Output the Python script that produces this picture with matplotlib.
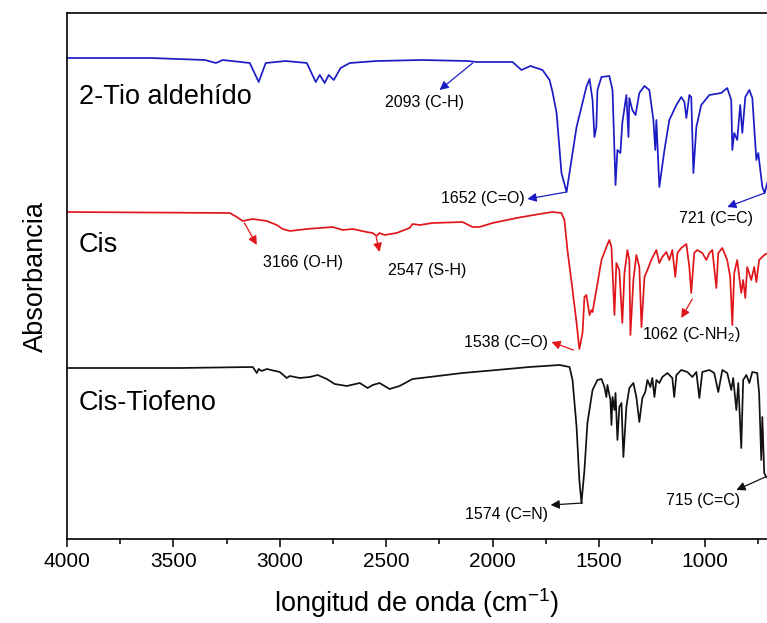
import matplotlib
matplotlib.use("Agg")
import matplotlib.pyplot as plt
from matplotlib.ticker import MultipleLocator

plt.rcParams['font.family'] = ['Liberation Sans', 'DejaVu Sans']
plt.rcParams['mathtext.fontset'] = 'custom'
plt.rcParams['mathtext.rm'] = 'Liberation Sans'
plt.rcParams['mathtext.it'] = 'Liberation Sans:italic'

# FTIR spectra (wavenumber cm-1, offset absorbance in arbitrary units)
tio_wn = [4000, 3606, 3352, 3300, 3268, 3141, 3099, 3066, 2972, 2873,
          2831, 2812, 2789, 2770, 2746, 2714, 2671, 2545, 2333, 2117,
          2075, 1906, 1864, 1822, 1765, 1732, 1718, 1699, 1676, 1652,
          1629, 1605, 1582, 1559, 1544, 1530, 1521, 1512, 1507, 1488,
          1451, 1436, 1422, 1413, 1399, 1390, 1371, 1361, 1357, 1343,
          1328, 1310, 1286, 1263, 1244, 1235, 1230, 1216, 1192, 1169,
          1136, 1113, 1098, 1089, 1075, 1066, 1056, 1042, 1019, 981,
          925, 897, 878, 873, 864, 850, 836, 826, 812, 793,
          779, 760, 751, 732, 721, 705]
tio_abs = [490, 490, 488, 485, 488, 485, 466, 485, 487, 485,
           466, 473, 465, 473, 468, 480, 485, 487, 488, 487,
           486, 486, 478, 482, 478, 468, 456, 435, 375, 356,
           388, 421, 441, 461, 469, 448, 411, 421, 458, 471,
           472, 458, 363, 398, 395, 425, 453, 411, 450, 438,
           433, 455, 462, 458, 428, 398, 428, 361, 398, 428,
           443, 451, 446, 430, 453, 451, 375, 421, 443, 453,
           455, 460, 448, 398, 415, 408, 443, 415, 451, 458,
           450, 388, 395, 361, 355, 368]

cis_wn = [4000, 3235, 3202, 3174, 3127, 3061, 3014, 2986, 2953, 2873,
          2812, 2751, 2704, 2657, 2592, 2563, 2545, 2531, 2507, 2451,
          2390, 2376, 2343, 2282, 2141, 2094, 2061, 2000, 1887, 1779,
          1718, 1676, 1662, 1648, 1624, 1605, 1592, 1577, 1568, 1559,
          1544, 1535, 1530, 1512, 1488, 1465, 1451, 1441, 1427, 1418,
          1404, 1390, 1380, 1366, 1357, 1352, 1338, 1324, 1310, 1300,
          1286, 1272, 1254, 1230, 1216, 1202, 1183, 1169, 1155, 1141,
          1131, 1113, 1089, 1075, 1066, 1052, 1038, 1014, 995, 981,
          967, 948, 939, 920, 897, 883, 873, 864, 850, 831,
          822, 812, 803, 784, 770, 760, 747, 723, 705]
cis_abs = [336, 335, 331, 327, 329, 327, 323, 319, 317, 319,
           320, 321, 318, 319, 316, 315, 312, 315, 313, 315,
           320, 324, 323, 325, 326, 321, 321, 325, 330, 334,
           336, 335, 328, 298, 258, 225, 199, 215, 251, 253,
           233, 238, 236, 258, 288, 301, 308, 301, 233, 285,
           278, 225, 275, 298, 288, 213, 268, 293, 281, 221,
           271, 278, 288, 298, 285, 291, 296, 288, 298, 271,
           295, 300, 304, 281, 255, 295, 298, 295, 288, 295,
           298, 260, 295, 300, 288, 271, 223, 275, 288, 255,
           268, 250, 281, 268, 281, 266, 288, 293, 295]

ct_wn = [4000, 3470, 3127, 3108, 3099, 3085, 3061, 3000, 2967, 2953,
         2906, 2859, 2822, 2779, 2742, 2685, 2624, 2587, 2563, 2531,
         2484, 2437, 2376, 2296, 2141, 1981, 1826, 1685, 1638, 1624,
         1605, 1592, 1582, 1568, 1554, 1530, 1507, 1488, 1474, 1465,
         1460, 1446, 1441, 1436, 1427, 1422, 1413, 1404, 1394, 1385,
         1371, 1357, 1338, 1324, 1310, 1296, 1282, 1272, 1258, 1249,
         1239, 1230, 1216, 1202, 1178, 1155, 1146, 1136, 1113, 1084,
         1061, 1042, 1028, 1014, 981, 958, 939, 920, 897, 878,
         869, 854, 845, 831, 822, 807, 793, 779, 756, 747,
         737, 732, 723, 714, 705]
ct_abs = [180, 180, 181, 175, 179, 177, 179, 176, 170, 172,
          170, 171, 173, 169, 164, 162, 165, 160, 163, 165,
          159, 162, 169, 171, 175, 178, 181, 183, 181, 168,
          121, 68, 45, 78, 125, 158, 168, 169, 161, 151,
          163, 148, 123, 151, 138, 155, 108, 141, 145, 91,
          141, 160, 165, 151, 126, 150, 156, 168, 161, 170,
          151, 168, 165, 171, 175, 170, 151, 173, 178, 176,
          171, 176, 150, 176, 178, 175, 156, 178, 175, 158,
          170, 138, 165, 100, 168, 173, 165, 176, 175, 155,
          88, 131, 75, 71, 70]

names = ['2-Tio aldehído', 'Cis', 'Cis-Tiofeno']
colors = ['#1c1cc4', '#e0161b', '#111111']

fig = plt.figure(figsize=(7.67, 6.23), dpi=100)
ax = fig.add_axes([67 / 767, 1 - 539 / 623, 1 - 67 / 767, (539 - 13) / 623])

ax.plot(tio_wn, tio_abs, color=colors[0], lw=1.25)
ax.plot(cis_wn, cis_abs, color=colors[1], lw=1.25)
ax.plot(ct_wn, ct_abs, color=colors[2], lw=1.25)

# sample names
for name, y in zip(names, [444, 296, 138]):
    ax.text(3944, y, name, fontsize=19.5, ha='left', va='baseline')


def mark(label, peak, head, pos, ha, color):
    ax.annotate('', xy=head, xytext=peak,
                arrowprops=dict(arrowstyle='-|>', color=color, lw=0.9,
                                mutation_scale=13, shrinkA=0, shrinkB=0))
    ax.text(pos[0], pos[1], label, fontsize=11.5, ha=ha, va='center')


mark('2093 (C-H)', (2093, 485), (2249, 458), (2319, 445), 'center', colors[0])
mark('1652 (C=O)', (1652, 356), (1836, 349), (1850, 349), 'right', colors[0])
mark('721 (C=C)', (721, 355), (897, 341), (948, 330), 'center', colors[0])
mark('3166 (O-H)', (3166, 325), (3108, 303), (2892, 286), 'center', colors[1])
mark('2547 (S-H)', (2547, 311), (2531, 296), (2305, 278), 'center', colors[1])
mark('1538 (C=O)', (1620, 198), (1723, 206), (1737, 205), 'right', colors[1])
mark('1062 (C-NH$_2$)', (1061, 249), (1113, 230), (1296, 214), 'left', colors[1])
mark('1574 (C=N)', (1577, 45), (1727, 43), (1737, 33), 'right', colors[2])
mark('715 (C=C)', (718, 71), (854, 58), (1009, 47), 'center', colors[2])

ax.set_xlim(4000, 710)
ax.set_ylim(9, 535)
ax.xaxis.set_major_locator(MultipleLocator(500))
ax.xaxis.set_minor_locator(MultipleLocator(250))
ax.tick_params(axis='x', which='major', direction='out', length=6, width=1.1,
               labelsize=15)
ax.tick_params(axis='x', which='minor', direction='out', length=3.5, width=1.1)
ax.set_yticks([])
ax.spines['right'].set_visible(False)
for s in ['left', 'top', 'bottom']:
    ax.spines[s].set_linewidth(1.2)

ax.set_xlabel('longitud de onda (cm$^{-1}$)', fontsize=19.5, labelpad=11)
ax.set_ylabel('Absorbancia', fontsize=19.5, labelpad=13)

fig.savefig('out.png', dpi=100)
